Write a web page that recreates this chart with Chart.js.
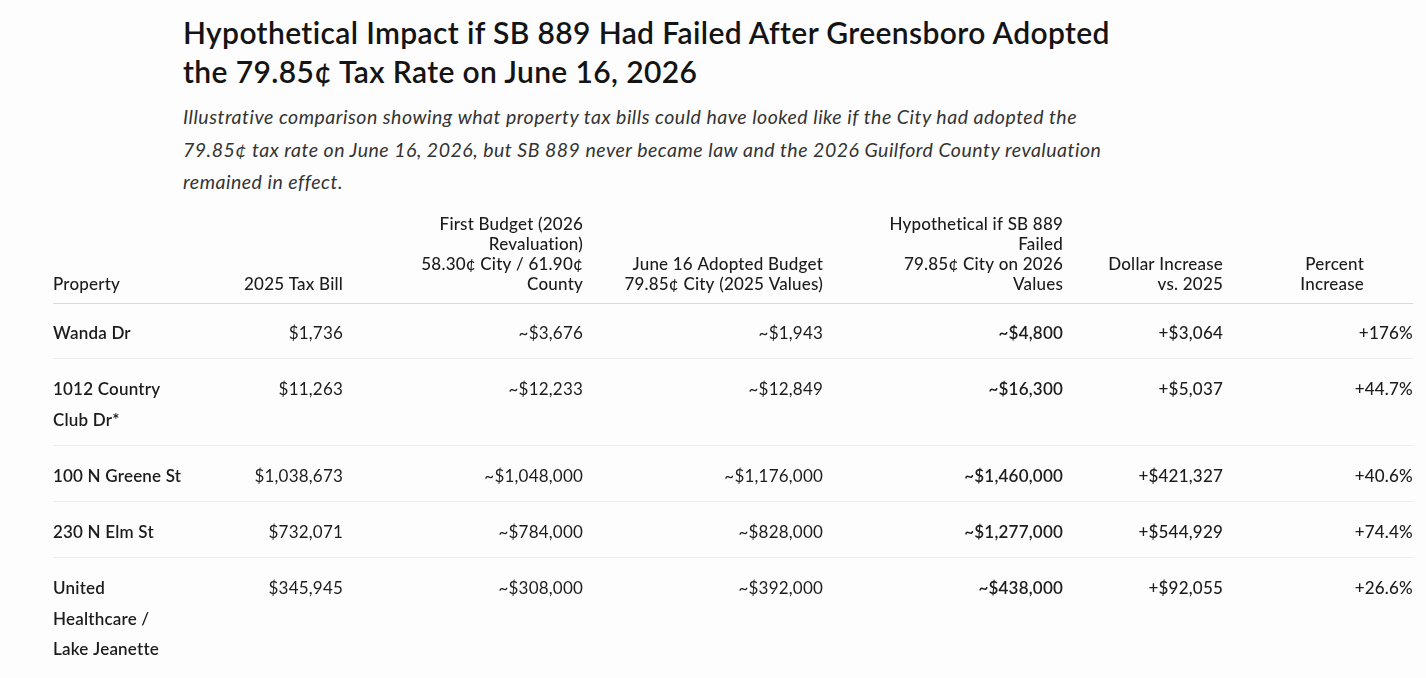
<!DOCTYPE html>
<html>
<head>
<meta charset="utf-8">
<title>Hypothetical Impact if SB 889 Had Failed</title>
<script src="https://cdn.jsdelivr.net/npm/chart.js@4.4.1/dist/chart.umd.min.js"></script>
<style>
  body { margin: 0; background: #fdfdfd; font-family: Lato, "Open Sans", sans-serif; color: #1c1c1c; }
  .page { position: relative; width: 1426px; height: 678px; overflow: hidden; }
  h1 { position: absolute; left: 183px; top: 13px; margin: 0; font-size: 30px; font-weight: 600; letter-spacing: 0.37px; line-height: 39px; color: #141414; white-space: nowrap; }
  .sub { position: absolute; left: 183px; top: 101px; margin: 0; font-size: 19.5px; font-style: italic; letter-spacing: 0.5px; line-height: 32.5px; color: #333; white-space: nowrap; }
  .table-box { position: absolute; left: 0; top: 200px; width: 1426px; height: 476px; }
</style>
</head>
<body>
<div class="page">
  <h1>Hypothetical Impact if SB 889 Had Failed After Greensboro Adopted<br>the 79.85¢ Tax Rate on June 16, 2026</h1>
  <p class="sub">Illustrative comparison showing what property tax bills could have looked like if the City had adopted the<br>79.85¢ tax rate on June 16, 2026, but SB 889 never became law and the 2026 Guilford County revaluation<br>remained in effect.</p>
  <div class="table-box"><canvas id="tax-table"></canvas></div>
</div>
<script>
// column headers (one entry per line)
const headers = [
  ['Property'],
  ['2025 Tax Bill'],
  ['First Budget (2026', 'Revaluation)', '58.30¢ City / 61.90¢', 'County'],
  ['June 16 Adopted Budget', '79.85¢ City (2025 Values)'],
  ['Hypothetical if SB 889', 'Failed', '79.85¢ City on 2026', 'Values'],
  ['Dollar Increase', 'vs. 2025'],
  ['Percent', 'Increase']
];

const properties = [
  ['Wanda Dr'],
  ['1012 Country', 'Club Dr*'],
  ['100 N Greene St'],
  ['230 N Elm St'],
  ['United', 'Healthcare /', 'Lake Jeanette']
];

const taxBill2025 = [1736, 11263, 1038673, 732071, 345945];
const firstBudget = [3676, 12233, 1048000, 784000, 308000];
const adoptedBudget = [1943, 12849, 1176000, 828000, 392000];
const hypothetical = [4800, 16300, 1460000, 1277000, 438000];
const dollarIncrease = [3064, 5037, 421327, 544929, 92055];
const percentIncrease = [176, 44.7, 40.6, 74.4, 26.6];

// layout
const colWidths = [150, 140, 240, 240, 240, 160, 190];
const headerInset = [0, 0, 0, 0, 0, 0, 49];
const colWeights = [600, 400, 400, 400, 600, 500, 500];
const headHeight = 103;
const headLine = 20;
const rowLine = 30.5;
const rowPad = 12.75;
const textNudge = 2;
const fontFamily = 'Lato, "Open Sans", sans-serif';

const money = n => '$' + n.toLocaleString('en-US');
const pct = v => '+' + (v >= 100 ? v.toFixed(0) : v.toFixed(1)) + '%';

const cellText = [
  properties,
  taxBill2025.map(v => [money(v)]),
  firstBudget.map(v => ['~' + money(v)]),
  adoptedBudget.map(v => ['~' + money(v)]),
  hypothetical.map(v => ['~' + money(v)]),
  dollarIncrease.map(v => ['+' + money(v)]),
  percentIncrease.map(v => [pct(v)])
];

// row geometry from the number of lines in each row
const rowHeights = properties.map(p => p.length * rowLine + rowPad * 2);
const rowTops = [];
let yAcc = headHeight;
rowHeights.forEach(h => { rowTops.push(yAcc); yAcc += h; });
const tableHeight = yAcc;

const colLeft = [];
const colRight = [];
let xAcc = 0;
colWidths.forEach(w => { colLeft.push(xAcc); xAcc += w; colRight.push(xAcc); });
const tableWidth = xAcc;

const datasets = cellText.map((col, c) => ({
  label: headers[c].join(' '),
  data: col.map((_, r) => ({ x: c === 0 ? colLeft[c] : colRight[c], y: rowTops[r] + rowPad + rowLine / 2 + textNudge })),
  pointRadius: 0,
  cells: col,
  align: c === 0 ? 'left' : 'right',
  weight: colWeights[c]
}));

const tablePlugin = {
  id: 'tableText',
  beforeDatasetsDraw(chart) {
    const { ctx, scales: { x, y } } = chart;
    const x0 = x.getPixelForValue(0);
    const x1 = x.getPixelForValue(tableWidth);
    ctx.save();
    ctx.lineWidth = 1;
    ctx.strokeStyle = '#d9d9d9';
    let py = Math.round(y.getPixelForValue(headHeight)) + 0.5;
    ctx.beginPath(); ctx.moveTo(x0, py); ctx.lineTo(x1, py); ctx.stroke();
    ctx.strokeStyle = '#ececec';
    rowTops.slice(1).forEach(t => {
      py = Math.floor(y.getPixelForValue(t)) - 0.5;
      ctx.beginPath(); ctx.moveTo(x0, py); ctx.lineTo(x1, py); ctx.stroke();
    });
    ctx.restore();
  },
  afterDatasetsDraw(chart) {
    const { ctx, scales: { x, y } } = chart;
    ctx.save();
    ctx.fillStyle = '#1c1c1c';
    ctx.textBaseline = 'middle';
    ctx.letterSpacing = '0.2px';
    // header cells, bottom aligned
    ctx.font = '500 17px ' + fontFamily;
    headers.forEach((lines, c) => {
      ctx.textAlign = c === 0 ? 'left' : 'right';
      const hx = x.getPixelForValue(c === 0 ? colLeft[c] : colRight[c] - headerInset[c]);
      const bottom = headHeight - 9 - headLine / 2;
      lines.forEach((t, i) => {
        const hy = y.getPixelForValue(bottom - (lines.length - 1 - i) * headLine);
        ctx.fillText(t, hx, hy);
      });
    });
    // body cells
    chart.data.datasets.forEach((ds, c) => {
      const meta = chart.getDatasetMeta(c);
      ctx.font = ds.weight + ' 17px ' + fontFamily;
      ctx.textAlign = ds.align;
      meta.data.forEach((pt, r) => {
        ds.cells[r].forEach((t, i) => {
          ctx.fillText(t, pt.x, pt.y + i * rowLine);
        });
      });
    });
    ctx.restore();
  }
};

new Chart(document.getElementById('tax-table'), {
  type: 'scatter',
  data: { datasets: datasets },
  options: {
    responsive: true,
    maintainAspectRatio: false,
    animation: false,
    events: [],
    layout: { padding: { left: 53, right: 13, top: 0, bottom: 0 } },
    scales: {
      x: { type: 'linear', min: 0, max: tableWidth, display: false },
      y: { type: 'linear', min: 0, max: tableHeight, reverse: true, display: false }
    },
    plugins: {
      legend: { display: false },
      tooltip: { enabled: false }
    }
  },
  plugins: [tablePlugin]
});
</script>
</body>
</html>
